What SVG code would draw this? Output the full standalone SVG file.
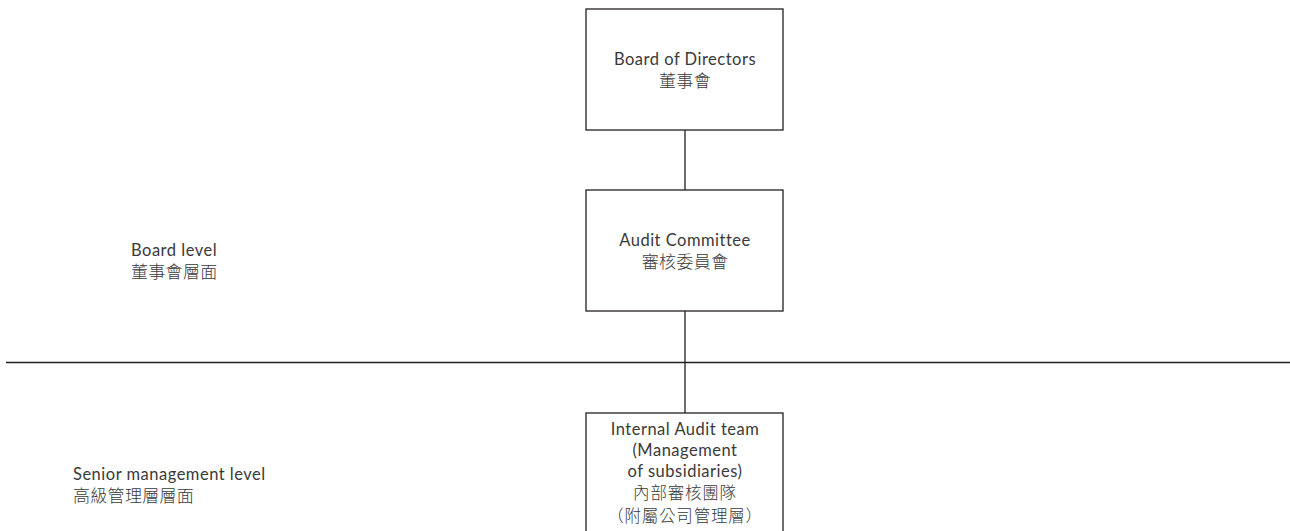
<svg xmlns="http://www.w3.org/2000/svg" width="1290" height="531" viewBox="0 0 1290 531">
<style>
.box{fill:#fff;stroke:#231f20;stroke-width:1.3}
.ln{stroke:#231f20;stroke-width:1.3;fill:none}
text{font-family:Lato,"Noto Sans CJK TC",sans-serif;font-size:16.5px;letter-spacing:0.5px;fill:#3a3a3a}
.zh{font-family:"Noto Sans CJK TC","Noto Sans CJK SC",sans-serif;font-size:17px;font-weight:300;letter-spacing:0.3px}
.zs{font-size:16.5px;letter-spacing:0.8px}
.c{text-anchor:middle}
</style>
<rect width="1290" height="531" fill="#fff"/>
<g id="connectors">
<line class="ln" x1="685" y1="130" x2="685" y2="190"/>
<line class="ln" x1="685" y1="311" x2="685" y2="413"/>
<line class="ln" x1="6" y1="362.5" x2="1290" y2="362.5"/>
</g>
<g id="board">
<rect class="box" x="586" y="9" width="197" height="121"/>
<text class="c" x="685" y="65">Board of Directors</text>
<text class="c zh" x="685" y="87">董事會</text>
</g>
<g id="audit-committee">
<rect class="box" x="586" y="190" width="197" height="121"/>
<text class="c" x="685" y="246">Audit Committee</text>
<text class="c zh" x="685" y="268">審核委員會</text>
</g>
<g id="internal-audit">
<rect class="box" x="586" y="413" width="197" height="130"/>
<text class="c" x="685" y="435">Internal Audit team</text>
<text class="c" x="685" y="456">(Management</text>
<text class="c" x="685" y="477">of subsidiaries)</text>
<text class="c zh zs" x="685" y="498.5">內部審核團隊</text>
<text class="c zh zs" x="685" y="521.5">（附屬公司管理層）</text>
</g>
<g id="board-level">
<text x="131" y="256">Board level</text>
<text class="zh" x="131" y="278">董事會層面</text>
</g>
<g id="senior-level">
<text x="73" y="480">Senior management level</text>
<text class="zh" x="73" y="502">高級管理層層面</text>
</g>
</svg>
